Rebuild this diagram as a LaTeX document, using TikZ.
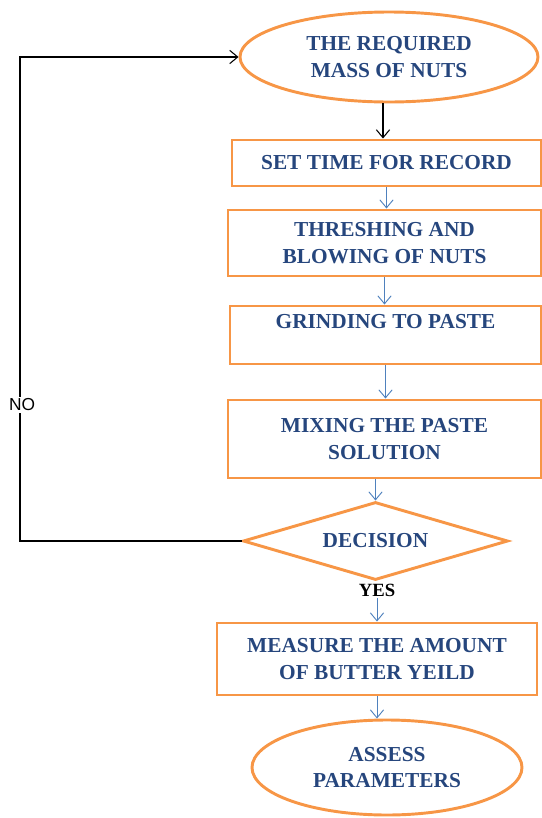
\documentclass[tikz,border=0pt]{standalone}
\usepackage{fontspec}
\setmainfont{Liberation Serif}
\newfontfamily\nofont{Liberation Sans}
\usetikzlibrary{shapes.geometric, arrows.meta}
\definecolor{boxorange}{RGB}{247,150,70}
\definecolor{textblue}{RGB}{38,70,125}
\definecolor{arrowblue}{RGB}{79,129,189}

\begin{document}
\begin{tikzpicture}[x=0.75pt,y=0.75pt,yscale=-1,xscale=1,
  stepbox/.style={draw=boxorange, line width=2.2pt, rectangle, inner sep=0pt, align=center, text=textblue, font=\fontsize{16}{20}\selectfont\bfseries},
  termnode/.style={stepbox, ellipse},
  decide/.style={stepbox, diamond, aspect=3.4},
  flow/.style={draw=arrowblue, line width=0.7pt, -{Straight Barb[length=6pt,width=10pt]}},
  back/.style={draw=black, line width=0.8pt}]
%set diagram size to the reference
\useasboundingbox (0,0) rectangle (542,818);

%Shape: Ellipse [start]
\node [termnode, minimum width=223.5pt, minimum height=67.5pt] (mass) at (389,57) {THE REQUIRED\\MASS OF NUTS};
%Shape: Rectangle
\node [stepbox, minimum width=231.75pt, minimum height=34.5pt] (settime) at (386.5,163) {SET TIME FOR RECORD};
%Shape: Rectangle
\node [stepbox, minimum width=234.75pt, minimum height=49.5pt] (thresh) at (384.5,243) {THRESHING AND\\BLOWING OF NUTS};
%Shape: Rectangle
\node [stepbox, minimum width=233.25pt, minimum height=43.5pt] (grind) at (385.5,335) {GRINDING TO PASTE\\\mbox{}};
%Shape: Rectangle
\node [stepbox, minimum width=234.75pt, minimum height=58.5pt] (mix) at (384.5,439) {MIXING THE PASTE\\SOLUTION};
%Shape: Diamond
\node [decide, minimum width=198.75pt, minimum height=58.5pt] (decision) at (375.5,541) {DECISION};
%Shape: Rectangle
\node [stepbox, minimum width=240pt, minimum height=54pt] (measure) at (377,659) {MEASURE THE AMOUNT\\OF BUTTER YEILD};
%Shape: Ellipse [end]
\node [termnode, minimum width=202.5pt, minimum height=71.25pt] (assess) at (387,767.5) {ASSESS\\PARAMETERS};

% Text Node
\node [inner sep=1pt, font=\fontsize{14}{16}\selectfont\bfseries] (yes) at (377,590) {YES};
% Text Node
\node [inner sep=1.5pt, font=\nofont\fontsize{13}{15}\selectfont] (no) at (22,405) {NO};

%Straight Lines
\draw [back, -{Straight Barb[length=6pt,width=10pt]}] ([xshift=-4.5pt]mass.south) -- ([xshift=-4.5pt]mass.south |- settime.north);
\draw [flow] (settime.south) -- (settime.south |- thresh.north);
\draw [flow] (thresh.south) -- (thresh.south |- grind.north);
\draw [flow] (grind.south) -- (grind.south |- mix.north);
\draw [flow] (mix.south -| decision.north) -- (decision.north);
\draw [flow] (yes.south) -- (yes.south |- measure.north);
\draw [flow] (measure.south) -- (measure.south |- assess.north);
%Loop back
\draw [back] (decision.west) -| (no.south -| 20,0);
\draw [back, -{Straight Barb[length=6pt,width=10pt]}] (no.north -| 20,0) |- (mass.west);

\end{tikzpicture}
\end{document}
